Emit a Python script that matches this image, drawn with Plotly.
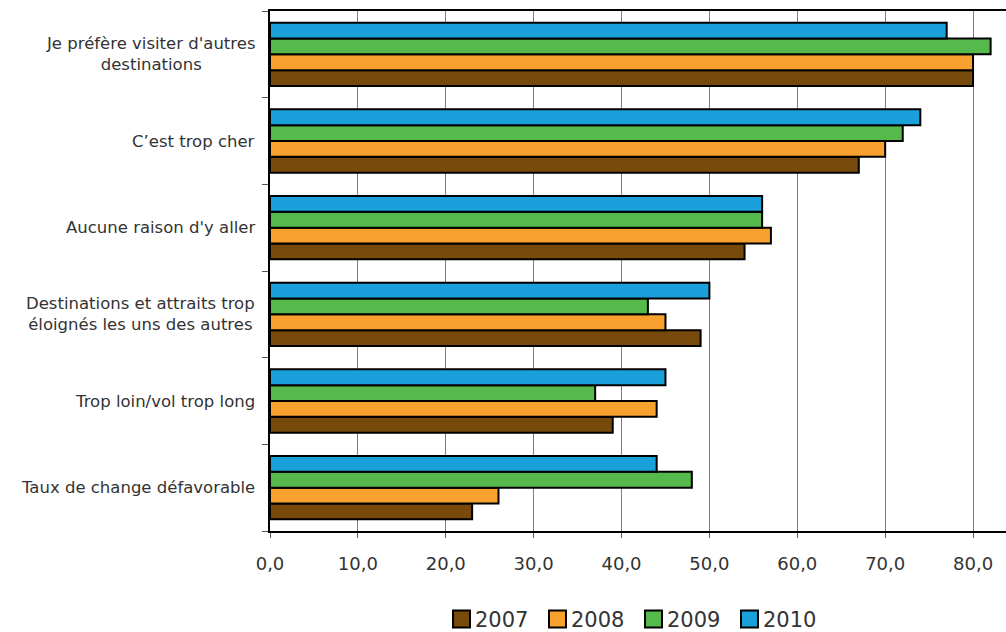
import plotly.graph_objects as go

# Reasons, listed bottom to top on the category axis
categories = [
    "Taux de change défavorable",
    "Trop loin/vol trop long",
    "Destinations et attraits trop<br>éloignés les uns des autres",
    "Aucune raison d'y aller",
    "C’est trop cher",
    "Je préfère visiter d'autres<br>destinations",
]

years = ["2007", "2008", "2009", "2010"]
values_2007 = [23, 39, 49, 54, 67, 80]
values_2008 = [26, 44, 45, 57, 70, 80]
values_2009 = [48, 37, 43, 56, 72, 82]
values_2010 = [44, 45, 50, 56, 74, 77]
series = [values_2007, values_2008, values_2009, values_2010]
colors = ["#774A0B", "#F9A12F", "#56B94B", "#1AA0DB"]

x_ticks = [0, 10, 20, 30, 40, 50, 60, 70, 80]

fig = go.Figure()
for name, vals, col in zip(years, series, colors):
    fig.add_trace(go.Bar(
        y=categories, x=vals, name=name, orientation="h",
        marker=dict(color=col, line=dict(color="#000000", width=2)),
        showlegend=False,
    ))

text_color = "#333333"
font_family = "DejaVu Sans, Verdana, sans-serif"

# Category labels, centred line by line, right-aligned against the axis
annotations = []
for cat in categories:
    annotations.append(dict(
        x=0, xref="paper", y=cat, yref="y", xanchor="right", yanchor="middle",
        xshift=-13, text=cat, showarrow=False, align="center",
        font=dict(size=16.5, color=text_color, family=font_family),
    ))

# Legend drawn as boxed swatches with year labels below the plot
shapes = []
plot_left, plot_w = 270, 736
plot_bottom, plot_h = 531, 520
def px_x(p):
    return (p - plot_left) / plot_w
def px_y(p):
    return (plot_bottom - p) / plot_h

start, step, box = 453, 96, 17
for i, (name, col) in enumerate(zip(years, colors)):
    x0 = start + i * step
    shapes.append(dict(
        type="rect", xref="paper", yref="paper",
        x0=px_x(x0), x1=px_x(x0 + box), y0=px_y(619 + box / 2), y1=px_y(619 - box / 2),
        fillcolor=col, line=dict(color="#000000", width=2),
    ))
    annotations.append(dict(
        x=px_x(x0 + box + 3), xref="paper", y=px_y(620), yref="paper",
        xanchor="left", yanchor="middle", text=name, showarrow=False,
        font=dict(size=21, color=text_color, family=font_family),
    ))

fig.update_layout(
    width=1006, height=632,
    margin=dict(l=270, r=0, t=11, b=101),
    paper_bgcolor="white", plot_bgcolor="white",
    barmode="group", bargap=0.27, bargroupgap=0,
    separators=", ",
    font=dict(family=font_family, color=text_color),
    xaxis=dict(
        range=[0, 83.75], tickvals=x_ticks, tickformat=".1f",
        showgrid=True, gridcolor="#7f7f7f", gridwidth=1,
        showline=True, linecolor="#000000", linewidth=2, mirror=True,
        ticks="outside", ticklen=5, tickcolor="#555555",
        ticklabelstandoff=10,
        tickfont=dict(size=18, color=text_color),
        zeroline=False, fixedrange=True,
    ),
    yaxis=dict(
        showticklabels=False, showline=True, linecolor="#000000", linewidth=2,
        ticks="outside", tickson="boundaries", ticklen=6, tickcolor="#555555",
        showgrid=False, fixedrange=True,
    ),
    annotations=annotations,
    shapes=shapes,
)

fig.write_html("out.html")
